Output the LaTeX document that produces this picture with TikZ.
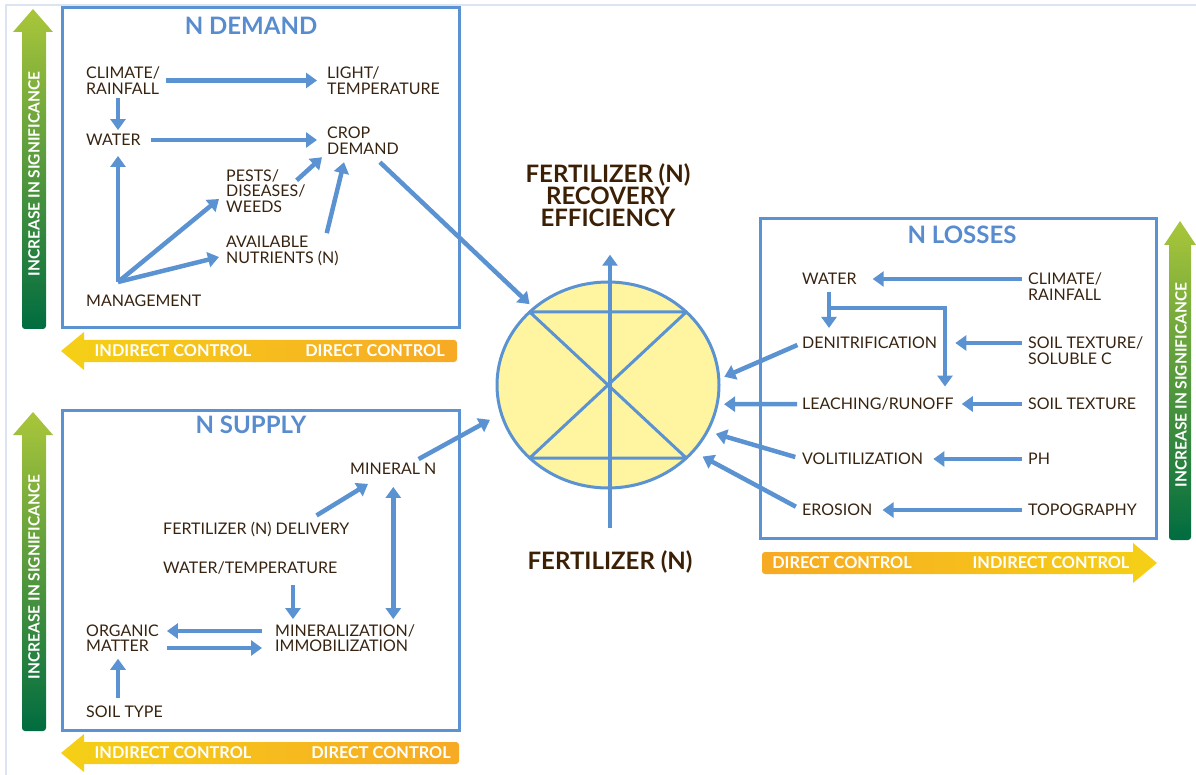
\documentclass[tikz,border=0pt]{standalone}
\usepackage{fontspec}
\setmainfont{Lato}
\usepackage{tikz}
\usetikzlibrary{calc,arrows.meta,shapes.geometric}

\definecolor{lineblue}{RGB}{91,146,210}
\definecolor{titleblue}{RGB}{88,140,206}
\definecolor{txtbrown}{RGB}{55,35,16}
\definecolor{darkbrown}{RGB}{60,32,6}
\definecolor{cirfill}{RGB}{255,245,160}
\definecolor{gtop}{RGB}{170,198,58}
\definecolor{gbot}{RGB}{0,108,64}
\definecolor{oyellow}{RGB}{245,208,22}
\definecolor{oorange}{RGB}{247,170,36}
\definecolor{framecol}{RGB}{220,228,242}

\tikzset{
  txt/.style = {anchor=west, align=left, inner sep=0pt, text=txtbrown,
                font=\fontsize{16}{15.5}\selectfont},
  head/.style = {inner sep=0pt, text=titleblue, font=\bfseries\fontsize{24}{26}\selectfont},
  bigtxt/.style = {inner sep=0pt, text=darkbrown, align=center,
                font=\bfseries\fontsize{24}{22}\selectfont},
  bartxt/.style = {inner sep=0pt, text=white, font=\bfseries\fontsize{16.3}{17}\selectfont},
  sigtxt/.style = {inner sep=0pt, text=white, rotate=90, font=\bfseries\fontsize{15.5}{16}\selectfont},
  flow/.style = {lineblue, line width=4.5pt, -{Triangle[length=11pt,width=15pt]}},
  flowboth/.style = {lineblue, line width=4.5pt,
                {Triangle[length=11pt,width=15pt]}-{Triangle[length=11pt,width=15pt]}},
  box/.style = {draw=lineblue, line width=3pt}
}

\begin{document}
\begin{tikzpicture}[x=1pt, y=-1pt]
\useasboundingbox (0,0) rectangle (1196,775);
\draw [framecol, line width=1.5pt] (6,775) -- (6,5) -- (1196,5);

% side arrows
\shade [top color=gtop, bottom color=gbot]
  (22,32) -- (13,32) -- (33,9) -- (53,32) -- (46,32) [rounded corners=3pt] -- (46,329) -- (22,329) [sharp corners] -- cycle;
\node [sigtxt] (sigdemand) at (34,174) {INCREASE IN SIGNIFICANCE};
\shade [top color=gtop, bottom color=gbot]
  (22,435) -- (13,435) -- (33,412) -- (53,435) -- (46,435) [rounded corners=3pt] -- (46,731) -- (22,731) [sharp corners] -- cycle;
\node [sigtxt] (sigsupply) at (34,577) {INCREASE IN SIGNIFICANCE};
\shade [top color=gtop, bottom color=gbot]
  (1169,245) -- (1164,245) -- (1180,221) -- (1196,245) -- (1191,245) [rounded corners=3pt] -- (1191,540) -- (1169,540) [sharp corners] -- cycle;
\node [sigtxt] (siglosses) at (1181,385) {INCREASE IN SIGNIFICANCE};

\shade [left color=oyellow, right color=oorange]
  (84,340) -- (84,332) -- (61,351) -- (84,370) -- (84,362) [rounded corners=3pt] -- (457,362) -- (457,340) [sharp corners] -- cycle;
\node [bartxt] (inddemand) at (173,351) {INDIRECT CONTROL};
\node [bartxt] (dirdemand) at (375,351) {DIRECT CONTROL};
\shade [left color=oyellow, right color=oorange]
  (84,742) -- (84,734) -- (61,753) -- (84,772) -- (84,764) [rounded corners=3pt] -- (459,764) -- (459,742) [sharp corners] -- cycle;
\node [bartxt] (indsupply) at (173,753) {INDIRECT CONTROL};
\node [bartxt] (dirsupply) at (381,753) {DIRECT CONTROL};
\shade [left color=oorange, right color=oyellow]
  (1133,552) -- (1133,543) -- (1157,563) -- (1133,583) -- (1133,574) [rounded corners=3pt] -- (762,574) -- (762,552) [sharp corners] -- cycle;
\node [bartxt] (dirlosses) at (842,563) {DIRECT CONTROL};
\node [bartxt] (indlosses) at (1051,563) {INDIRECT CONTROL};

% boxes
\draw [box] (62,8) rectangle (459,328);
\draw [box] (62,410) rectangle (459,730);
\draw [box] (760,219) rectangle (1156,538);
\node [head] (demand) at (251,26) {N DEMAND};
\node [head] (supply) at (251,425) {N SUPPLY};
\node [head] (losses) at (962,235) {N LOSSES};

% recovery circle
\node [ellipse, draw=lineblue, line width=3pt, fill=cirfill, minimum width=222pt,
       minimum height=206pt, inner sep=0pt, outer sep=0pt] (rec) at (608,385) {};
\draw [lineblue, line width=3pt, line join=round] (rec.137) -- (rec.43) -- (rec.223) -- (rec.317) -- cycle;
\node [bigtxt] (recov) at (608,195) {FERTILIZER (N)\\RECOVERY\\EFFICIENCY};
\node [bigtxt] (fert) at (610,562) {FERTILIZER (N)};
\draw [flow, shorten <=22pt, shorten >=28pt] (fert.north) -- (fert.north |- recov.south);

% N demand
\node [txt] (clim) at (86,80.5) {CLIMATE/\\RAINFALL};
\node [txt] (light) at (327,80.5) {LIGHT/\\TEMPERATURE};
\node [txt] (water) at (86,140) {WATER};
\node [txt] (crop) at (327,140.5) {CROP\\DEMAND};
\node [txt] (pests) at (226,191) {PESTS/\\DISEASES/\\WEEDS};
\node [txt] (avail) at (226,251) {AVAILABLE\\NUTRIENTS (N)};
\node [txt] (mgmt) at (86,301) {MANAGEMENT};
\coordinate (hub) at (118,282);

\draw [flow, shorten <=6pt, shorten >=10pt] (clim.east) -- (light.west);
\draw [flow, shorten <=4pt, shorten >=4pt] (hub |- clim.south) -- (hub |- water.north);
\draw [flow, shorten <=10pt, shorten >=10pt] (water.east) -- (water.east -| crop.west);
\draw [flow] ($(pests.north east)+(-9,11)$) -- ($(crop.south west)+(-5,3)$);
\draw [flow] ($(avail.north east)+(-12,-3)$) -- ($(crop.south west)+(17,8)$);
\draw [flow, shorten >=10pt] (hub) -- (hub |- water.south);
\draw [flow] (hub) -- ($(pests.west)+(-7,8)$);
\draw [flow] (hub) -- ($(avail.west)+(-7,6)$);
\draw [flow, shorten >=6pt] ($(crop.south)+(17,8)$) -- (rec.134);

% N supply
\node [txt] (mineral) at (350,469) {MINERAL N};
\node [txt] (fertdel) at (163,529) {FERTILIZER (N) DELIVERY};
\node [txt] (watemp) at (163,568) {WATER/TEMPERATURE};
\node [txt] (minz) at (275,638) {MINERALIZATION/\\IMMOBILIZATION};
\node [txt] (organic) at (86,638) {ORGANIC\\MATTER};
\node [txt] (soil) at (86,712) {SOIL TYPE};

\draw [flow, shorten >=13pt] ($(mineral.north east)+(-18,-4)$) -- (rec.195);
\draw [flow] ($(fertdel.north east)+(-33,-6)$) -- ($(mineral.south west)+(18,9)$);
\draw [flow, shorten <=11pt, shorten >=5pt] ([xshift=18pt]minz.north west |- watemp.south) -- ([xshift=18pt]minz.north west);
\draw [flowboth, shorten <=12pt, shorten >=5pt] (mineral.south) -- (mineral.south |- minz.north);
\draw [flow, shorten <=13pt, shorten >=8pt] ([yshift=7pt]minz.west) -- ([yshift=7pt]minz.west -| organic.east);
\draw [flow, shorten <=8pt, shorten >=13pt] ([yshift=-10pt]organic.east) -- ([yshift=-10pt]organic.east -| minz.west);
\draw [flow, shorten <=8pt, shorten >=7pt] ([xshift=32pt]soil.north west) -- ([xshift=32pt]soil.north west |- organic.south);

% N losses
\node [txt] (lwater) at (802,279) {WATER};
\node [txt] (lclim) at (1028,286.5) {CLIMATE/\\RAINFALL};
\node [txt] (denit) at (802,343) {DENITRIFICATION};
\node [txt] (stex) at (1028,350.5) {SOIL TEXTURE/\\SOLUBLE C};
\node [txt] (leach) at (802,404) {LEACHING/RUNOFF};
\node [txt] (stextwo) at (1028,404) {SOIL TEXTURE};
\node [txt] (volat) at (802,459) {VOLITILIZATION};
\node [txt] (ph) at (1028,459) {PH};
\node [txt] (eros) at (802,510) {EROSION};
\node [txt] (topo) at (1028,510) {TOPOGRAPHY};

\draw [flow, shorten <=6pt, shorten >=16pt] (lclim.west |- lwater) -- (lwater.east);
\draw [flow, shorten <=6pt, shorten >=18pt] (stex.west |- denit) -- (denit.east);
\draw [flow, shorten <=6pt, shorten >=8pt] (stextwo.west) -- (leach.east);
\draw [flow, shorten <=6pt, shorten >=10pt] (ph.west) -- (volat.east);
\draw [flow, shorten <=6pt, shorten >=10pt] (topo.west) -- (eros.east);
\draw [flow, shorten <=7pt, shorten >=9pt] ([xshift=27pt]lwater.south west) -- ([xshift=27pt]lwater.south west |- denit.north);
\draw [flow, line join=miter] ([xshift=27pt,yshift=-23pt]lwater.south west) -| ([xshift=143pt,yshift=11pt]leach.north west);

\draw [flow, shorten <=5pt, shorten >=6pt] (denit.west) -- (rec.3);
\draw [flow, shorten <=5pt, shorten >=7pt] (leach.west) -- (rec.350);
\draw [flow, shorten <=7pt, shorten >=9pt] (volat.west) -- (rec.335);
\draw [flow, shorten <=7pt, shorten >=11pt] (eros.west) -- (rec.322);
\end{tikzpicture}
\end{document}
